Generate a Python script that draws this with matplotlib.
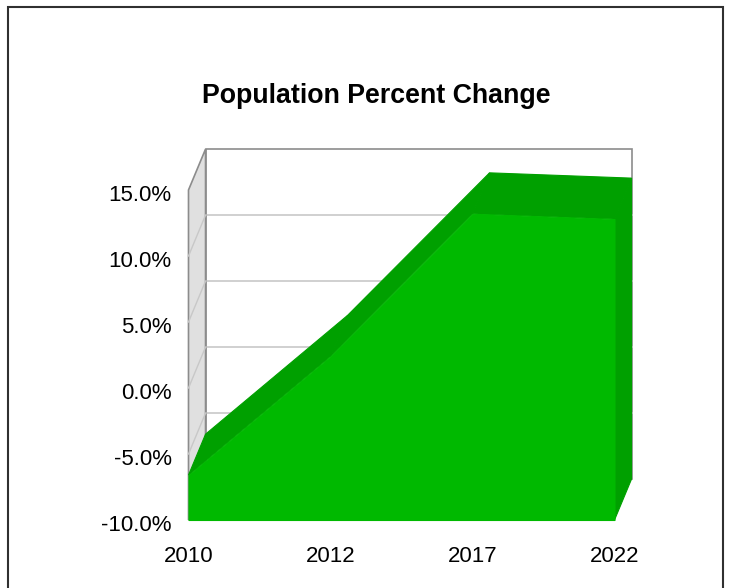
import matplotlib.pyplot as plt
from matplotlib.patches import Rectangle, Polygon
from matplotlib.transforms import ScaledTranslation

plt.rcParams['font.family'] = ['Liberation Sans', 'DejaVu Sans']

# Chart data
years = ['2010', '2012', '2017', '2022']
pct_change = [-6.6, 2.4, 13.2, 12.8]
y_ticks = [-10, -5, 0, 5, 10, 15]

# 3D depth offset (in data units) and colours
DX, DY = 0.12, 3.1
front_green = '#00B900'
dark_green = '#00A000'
wall_gray = '#E0E0E0'
edge_gray = '#8C8C8C'
grid_gray = '#C8C8C8'

fig = plt.figure(figsize=(7.3, 5.88), dpi=100)
ax = fig.add_axes([188.5 / 730, 68 / 588, 426 / 730, 330 / 588])
ax.set_xlim(0, len(years) - 1)
ax.set_ylim(y_ticks[0], y_ticks[-1])
ymin, ymax = y_ticks[0], y_ticks[-1]
xmax = len(years) - 1

# back wall
ax.add_patch(Rectangle((DX, ymin + DY), xmax, ymax - ymin, facecolor='white',
                       edgecolor=edge_gray, lw=1.2, clip_on=False, zorder=1))
for v in y_ticks[1:-1]:
    ax.plot([DX, xmax + DX], [v + DY, v + DY], color=grid_gray, lw=1.2,
            clip_on=False, zorder=2)

# left wall
ax.add_patch(Polygon([(0, ymin), (0, ymax), (DX, ymax + DY), (DX, ymin + DY)],
                     closed=True, facecolor=wall_gray, edgecolor=edge_gray,
                     lw=1.2, clip_on=False, zorder=3))
for v in y_ticks[1:-1]:
    ax.plot([0, DX], [v, v + DY], color=grid_gray, lw=1.0, clip_on=False, zorder=4)

# area: top strips, right side, front face
x = list(range(len(years)))
for i in range(len(x) - 1):
    ax.fill([x[i], x[i + 1], x[i + 1] + DX, x[i] + DX],
            [pct_change[i], pct_change[i + 1], pct_change[i + 1] + DY, pct_change[i] + DY],
            color=dark_green, lw=0.8, clip_on=False, zorder=5)
ax.fill([x[-1], x[-1], x[-1] + DX, x[-1] + DX],
        [ymin, pct_change[-1], pct_change[-1] + DY, ymin + DY],
        color=dark_green, lw=0.8, clip_on=False, zorder=5)
ax.fill_between(x, ymin, pct_change, facecolor=front_green, edgecolor=front_green,
                lw=0.8, zorder=6, clip_on=False)

# axes formatting
for s in ax.spines.values():
    s.set_visible(False)
ax.set_xticks(x)
ax.set_xticklabels(years)
ax.set_yticks(y_ticks)
ax.set_yticklabels([f'{v:.1f}%' for v in y_ticks])
ax.tick_params(axis='both', length=0, labelsize=16)
ax.tick_params(axis='y', pad=12)
ax.tick_params(axis='x', pad=19)
ax.patch.set_visible(False)
shift = ScaledTranslation(0, -3 / 100, fig.dpi_scale_trans)
for lbl in ax.get_yticklabels():
    lbl.set_transform(lbl.get_transform() + shift)

fig.text(376.6 / 730, 1 - 96 / 588, 'Population Percent Change',
         ha='center', va='center', fontsize=19.3, fontweight='bold')

# chart border
fig.add_artist(Rectangle((8 / 730, -0.01), 715 / 730, 1 - 7 / 588 + 0.01,
                         transform=fig.transFigure, fill=False,
                         edgecolor='#303030', lw=1.5))

fig.savefig('out.png', dpi=100)
